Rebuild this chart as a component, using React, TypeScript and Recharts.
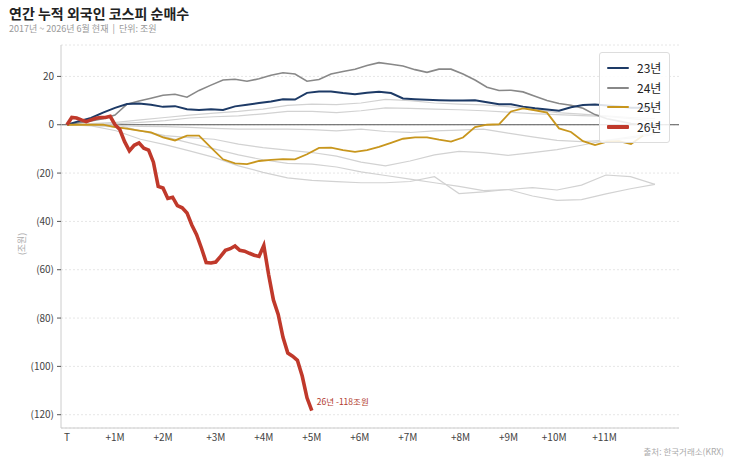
import React from 'react';
import { LineChart, Line, XAxis, YAxis, CartesianGrid, ReferenceLine } from 'recharts';

const FONT = '"Noto Sans CJK KR", "Noto Sans", sans-serif';

// x axis: trading-day index from start of year
const monthTicks = [0, 20, 40, 62, 82, 102, 122, 142, 164, 184, 203, 224];
const monthLabels = ['T', '+1M', '+2M', '+3M', '+4M', '+5M', '+6M', '+7M', '+8M', '+9M', '+10M', '+11M'];
const yTicks = [20, 0, -20, -40, -60, -80, -100, -120];

const FULL_YEAR_DAYS = 245;

// light gray background years (one value every ~10 trading days)
const y17 = [0, 0.5, 1, 2, 3, 4, 4.8, 5.5, 6.5, 8, 8.5, 8.3, 9, 10.5, 10, 9, 8.5, 8.2, 7.5, 6.5, 5, 4.4, 3.7, 3, 2.5];
const y18 = [0, 0.3, 0.5, 1, 1.7, 2.8, 3.3, 3.7, 4.5, 5.5, 5.5, 5, 5.8, 7, 6.8, 6.5, 6.2, 5.8, 5.2, 4.6, 4.2, 3.8, 3.5, 2.5, 1.5];
const y19 = [0, 0, -0.3, -0.7, -0.8, -1.1, -1.5, -1.8, -1.8, -1.8, -2, -2.5, -1.8, -2.8, -3.2, -2.5, -2.2, -1.8, -3.5, -5, -6.5, -7, -6.5, -5.5, -4];
const y20 = [0, 0, 0, -2.5, -4.5, -5.3, -6, -8, -9.5, -10.5, -11.5, -13, -15.5, -17, -15, -12.5, -11, -11.5, -12.7, -11.5, -10.3, -8.5, -6.5, -5, -3.5];
const y21 = [0, -0.5, -2.5, -6, -8.2, -10.8, -13.5, -17, -19.7, -22, -23, -23.5, -24, -24, -23.5, -21.5, -28.5, -27.8, -26.8, -26, -27, -25, -20.8, -21.5, -24.7];
const y22 = [0, -0.3, -1, -2.5, -5, -7.5, -10, -12.5, -14.5, -16, -16.3, -17.5, -19.5, -21, -22.5, -24, -25.5, -27.3, -26.8, -29.5, -31.3, -31, -28.6, -26.5, -24.7];

// highlighted years (one value every 5 trading days)
const y23 = [0, 1.5, 2.8, 5, 7, 8.6, 8.8, 8.3, 7.4, 7.7,
  6.4, 6.1, 6.4, 6.1, 7.6, 8.3, 9, 9.6, 10.5, 10.4,
  13.2, 13.8, 13.8, 13.1, 12.6, 13.2, 13.7, 13.1, 10.9, 10.6,
  10.3, 10.1, 10, 10, 10.1, 9.3, 8.5, 8.5, 7.5, 6.8,
  6.3, 5.8, 7.2, 8.2, 8.4, 8, 7.5, 7, 7, 7];
const y24 = [0, 0.8, 1.6, 2.5, 4, 8.5, 9.8, 11, 12.2, 12.6,
  11.4, 14.2, 16.4, 18.5, 18.8, 18, 19, 20.5, 21.5, 21,
  18, 18.7, 21, 22, 23, 24.5, 25.7, 25, 24.3, 22.8,
  21.7, 23, 23, 21, 18.5, 15.5, 14.2, 14.3, 13.6, 11.8,
  10, 8.8, 8.1, 6.8, 4.2, 2.5, 1.5, 0.5, 0, -0.5];
const y25 = [0, 0, 0, 0, -1, -1.6, -2.4, -3.2, -5.2, -6.5,
  -4.5, -4.5, -9.5, -14.3, -16, -16.3, -15, -14.5, -14.2, -14.3,
  -12.2, -9.6, -9.5, -10.5, -11.2, -10.5, -9.2, -7.5, -5.8, -5.2,
  -5.2, -6.2, -7, -5.3, -1, 0, 0.2, 5.5, 6.8, 6,
  5, -1.5, -3, -6.8, -8.4, -7, -6.8, -8, -4.5];
// 2026 (one value every 2 trading days)
const y26 = [0, 3, 2.8, 2, 1.3, 2, 2.7, 3, 3, 3.5,
  0, -2, -7, -10.8, -8.5, -7.5, -9.7, -10.5, -15.5, -25.5,
  -26.2, -30.5, -30, -33.5, -34.4, -36.5, -41.5, -45.5, -51, -57,
  -57.2, -56.8, -54.5, -52, -51.3, -50.2, -52, -52.3, -53.2, -54,
  -54.5, -50, -62, -72.5, -78.5, -88, -94.5, -95.8, -97.5, -104,
  -113, -118.3];

const toPts = (vals: number[], step: number) => vals.map((v, i) => ({ d: i * step, v }));

const lightSeries = [y17, y18, y19, y20, y21, y22].map((arr) => toPts(arr, FULL_YEAR_DAYS / (arr.length - 1)));
const d23 = toPts(y23, 5);
const d24 = toPts(y24, 5);
const d25 = toPts(y25, 5);
const d26 = toPts(y26, 2);

const COLORS = { y23: '#1d3a66', y24: '#888888', y25: '#c8961d', y26: '#c0392b', light: '#d2d2d2' };

const legendItems = [
  { name: '23년', color: COLORS.y23, w: 2 },
  { name: '24년', color: COLORS.y24, w: 1.6 },
  { name: '25년', color: COLORS.y25, w: 2 },
  { name: '26년', color: COLORS.y26, w: 4 },
];

const fmtY = (v: number) => (v < 0 ? `(${-v})` : `${v}`);
const fmtX = (v: number) => monthLabels[monthTicks.indexOf(v)] ?? '';

const endLabel = (props: any) => {
  const { x, y, index } = props;
  if (index !== y26.length - 1) return null;
  const last = y26[y26.length - 1];
  return (
    <text x={x + 5} y={y - 10} fill="#b23a2e" fontSize={8.5} fontFamily={FONT} dominantBaseline="central">
      {`26년 -${Math.round(-last)}조원`}
    </text>
  );
};

export default function App() {
  return (
    <div style={{ position: 'absolute', left: 0, top: 0, width: 730, height: 465, background: '#fff', fontFamily: FONT, overflow: 'hidden' }}>
      <LineChart width={730} height={465} margin={{ top: 45, right: 51, bottom: 7, left: 11 }}>
        <CartesianGrid horizontal vertical={false} stroke="#e6e6e6" strokeDasharray="2 2" />
        <XAxis
          type="number"
          dataKey="d"
          domain={[-2.5, 255]}
          ticks={monthTicks}
          tickFormatter={fmtX}
          interval={0}
          allowDataOverflow
          height={30}
          axisLine={{ stroke: '#cccccc' }}
          tickLine={false}
          tickSize={3}
          tickMargin={3}
          tick={{ fontSize: 10, fill: '#444', fontFamily: FONT }}
        />
        <YAxis
          type="number"
          domain={[-125.5, 33]}
          ticks={yTicks}
          tickFormatter={fmtY}
          interval={0}
          allowDataOverflow
          width={50}
          axisLine={{ stroke: '#cccccc' }}
          tickLine={{ stroke: '#555' }}
          tickSize={4}
          tickMargin={3}
          tick={{ fontSize: 10, fill: '#444', fontFamily: FONT }}
        />
        <ReferenceLine y={0} stroke="#555" strokeWidth={1} />
        {lightSeries.map((pts, i) => (
          <Line key={i} data={pts} dataKey="v" type="linear" stroke={COLORS.light} strokeWidth={1.2} dot={false} activeDot={false} isAnimationActive={false} />
        ))}
        <Line data={d24} dataKey="v" type="linear" stroke={COLORS.y24} strokeWidth={1.6} dot={false} activeDot={false} isAnimationActive={false} />
        <Line data={d23} dataKey="v" type="linear" stroke={COLORS.y23} strokeWidth={2} dot={false} activeDot={false} isAnimationActive={false} />
        <Line data={d25} dataKey="v" type="linear" stroke={COLORS.y25} strokeWidth={1.8} dot={false} activeDot={false} isAnimationActive={false} />
        <Line data={d26} dataKey="v" type="linear" stroke={COLORS.y26} strokeWidth={3.6} dot={false} activeDot={false} isAnimationActive={false} label={endLabel} />
      </LineChart>

      <div style={{ position: 'absolute', left: 9, top: 6, fontSize: 14, lineHeight: '15px', fontWeight: 700, color: '#222', whiteSpace: 'nowrap' }}>
        연간 누적 외국인 코스피 순매수
      </div>
      <div style={{ position: 'absolute', left: 9, top: 24, fontSize: 9, lineHeight: '9px', color: '#999', whiteSpace: 'nowrap' }}>
        2017년 ~ 2026년 6월 현재 &nbsp;|&nbsp; 단위: 조원
      </div>
      <div style={{ position: 'absolute', left: 22, top: 244, transform: 'translate(-50%, -50%) rotate(-90deg)', fontSize: 9, lineHeight: '10px', color: '#aaa', whiteSpace: 'nowrap' }}>
        (조원)
      </div>
      <div style={{ position: 'absolute', right: 6, top: 446, fontSize: 8.5, lineHeight: '10px', color: '#aaa', whiteSpace: 'nowrap' }}>
        출처: 한국거래소(KRX)
      </div>
      <div style={{ position: 'absolute', left: 599, top: 52, width: 71, height: 91, boxSizing: 'border-box', border: '1px solid #dddddd', borderRadius: 3, background: 'rgba(255,255,255,0.85)', padding: '5.5px 0 5.5px 7px' }}>
        {legendItems.map((it) => (
          <div key={it.name} style={{ height: 19.5, display: 'flex', alignItems: 'center' }}>
            <div style={{ width: 22, height: it.w, background: it.color, borderRadius: 1 }} />
            <span style={{ marginLeft: 8, fontSize: 12, lineHeight: '14px', color: '#222' }}>{it.name}</span>
          </div>
        ))}
      </div>
    </div>
  );
}
